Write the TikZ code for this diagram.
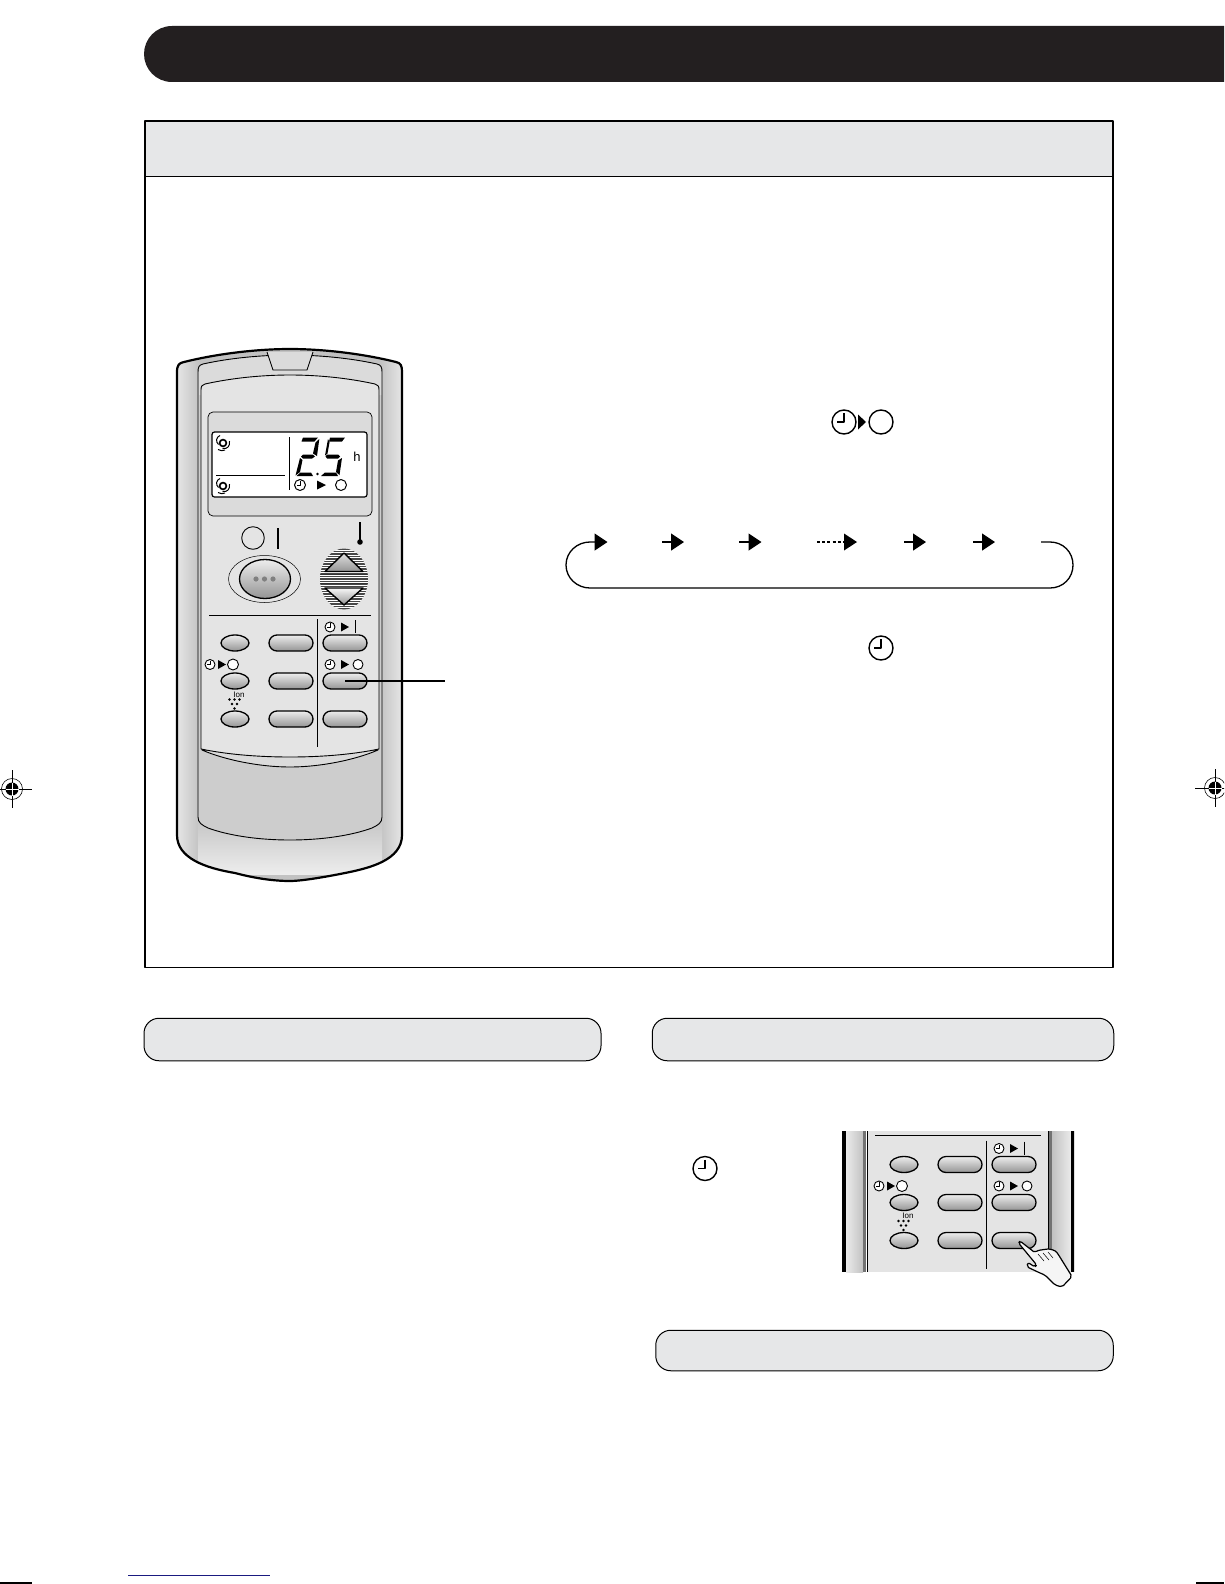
\documentclass[tikz,border=0pt]{standalone}
\usepackage{fontspec}
\setmainfont{Liberation Sans}
\usetikzlibrary{shapes.geometric,shapes.misc,arrows.meta}
\definecolor{bandgrey}{HTML}{E6E7E8}
\definecolor{facegrey}{HTML}{E4E4E4}
\definecolor{lowgrey}{HTML}{CDCDCD}
\definecolor{rimgrey}{HTML}{DBDBDB}
\definecolor{navyrule}{HTML}{1A1A80}
\definecolor{titleblack}{HTML}{231F20}
\pgfdeclarehorizontalshading{bodyshade}{100bp}{color(0bp)=(white!90!black); color(25bp)=(white!90!black); color(30bp)=(white!76!black); color(70bp)=(white!76!black); color(75bp)=(white!90!black); color(100bp)=(white!90!black)}
\tikzset{
  band/.style={draw=black,line width=1pt,fill=bandgrey,rounded corners=15pt},
  keybtn/.style={draw=black,line width=1.3pt,inner sep=0pt,top color=white!93!black,middle color=white!76!black,bottom color=white!58!black,shading angle=0},
  wide/.style={keybtn,rounded rectangle,minimum width=44pt,minimum height=16pt},
  oval/.style={keybtn,ellipse,minimum width=28pt,minimum height=16pt},
  thin/.style={line width=0.9pt,draw=black},
  arr/.style={line width=1.3pt,-{Triangle[length=13pt,width=17pt]}},
  sans/.style={inner sep=0pt,font=\fontsize{#1}{#1}\selectfont}
}
% clock icon: x, y, radius, line width
\newcommand{\clockic}[4]{%
  \draw[line width=#4,fill=white] (#1,#2) circle[radius=#3];
  \draw[line width=#4] (#1,#2-0.72*#3) -- (#1,#2) -- (#1-0.62*#3,#2);
}
\newcommand{\ringic}[4]{\draw[line width=#4,fill=white] (#1,#2) circle[radius=#3];}
\newcommand{\trialic}[3]{\fill[black] (#1,#3-4.5) -- (#2,#3) -- (#1,#3+4.5) -- cycle;}
% the swirl on the display
\newcommand{\swirlic}[2]{%
  \draw[line width=1.7pt] (#1,#2) circle[radius=3.4];
  \draw[line width=1pt] (#1-3,#2-7.5) .. controls (#1-7,#2-6) and (#1-7.5,#2-1) .. (#1-4.5,#2+1.5);
  \draw[line width=1pt] (#1+6.5,#2-2) .. controls (#1+7.5,#2+3) and (#1+4,#2+6.5) .. (#1-0.5,#2+5.5);
  \draw[line width=1pt] (#1-5,#2+6.5) .. controls (#1-3,#2+8) and (#1,#2+8) .. (#1+2,#2+7);
}
\newcommand{\regmark}[2]{%
  \draw[line width=0.6pt] (#1,#2) circle[radius=10.5];
  \fill[black] (#1,#2) circle[radius=6.5];
  \draw[line width=0.6pt] (#1-20,#2) -- (#1+20,#2) (#1,#2-19) -- (#1,#2+19);
  \draw[white,line width=0.8pt] (#1-6.5,#2) -- (#1+6.5,#2) (#1,#2-6.5) -- (#1,#2+6.5);
}
% the key block of the remote, drawn at the main remote's coordinates
\newcommand{\keypad}[1]{%
  \draw[line width=1pt] (317,619) -- (317,747);
  \node[oval] (#1a1) at (235,643) {};
  \node[wide] (#1b1) at (291,643) {};
  \node[wide] (#1c1) at (345,643) {};
  \node[oval] (#1a2) at (235,681) {};
  \node[wide] (#1b2) at (291,681) {};
  \node[wide] (#1c2) at (345,681) {};
  \node[oval] (#1a3) at (235,719) {};
  \node[wide] (#1b3) at (291,719) {};
  \node[wide] (#1c3) at (345,719) {};
  \clockic{330}{627}{5}{0.9pt}
  \trialic{341}{349}{627}
  \draw[line width=1pt] (355,620) -- (355,633);
  \clockic{330}{664.5}{5}{0.9pt}
  \trialic{341}{349}{664.5}
  \ringic{358}{664.5}{5}{0.9pt}
  \clockic{210}{664.5}{5}{0.9pt}
  \trialic{218}{226}{664.5}
  \ringic{233}{664.5}{5.5}{0.9pt}
  \node[sans=8] (#1ion) at (239,694.5) {Ion};
  \foreach \px/\py in {229.5/699.5,234.5/699.5,239.5/699.5,232/704,237/704,234.5/708.5}
    \fill[black] (\px,\py) circle[radius=1.4];
}
\begin{document}
\begin{tikzpicture}[x=1pt,y=-1pt,line join=round]
\useasboundingbox (0,0) rectangle (1224,1584);
\fill[white] (0,0) rectangle (1224,1584);
\clip (0,0) rectangle (1224,1584);

% title bar
\fill[titleblack] (1224,26) -- (172,26) .. controls (156,26) and (144,39) .. (144,54) .. controls (144,69) and (156,82) .. (172,82) -- (1224,82) -- cycle;

% main frame
\fill[bandgrey] (145,121) rectangle (1113,176.5);
\draw[line width=0.9pt] (145,176.5) -- (1113,176.5);
\draw[line width=1.8pt] (145,121) rectangle (1113,967.5);

% lower rounded bands
\node[band,minimum width=457pt,minimum height=42.5pt,inner sep=0pt] (bandA) at (372.5,1039.5) {};
\node[band,minimum width=461.5pt,minimum height=42.5pt,inner sep=0pt] (bandB) at (883,1039.5) {};
\node[band,minimum width=457.5pt,minimum height=40.5pt,inner sep=0pt] (bandC) at (884.5,1350.5) {};

% registration marks and page rules
\regmark{12}{789}
\regmark{1215}{788}
\draw[navyrule,line width=1pt] (128,1575) -- (270,1575);
\draw[line width=1.4pt] (0,1583) -- (32,1583) (1196,1583) -- (1224,1583);

%%%%% remote
\path[shading=bodyshade,shading angle=0] (177,372) .. controls (177,365) and (179,363) .. (184,362) .. controls (220,353) and (260,349) .. (290,349) .. controls (320,349) and (360,353) .. (396,362) .. controls (401,363) and (402,366) .. (402,372) -- (402,835) .. controls (402,860) and (370,868) .. (345,873) .. controls (320,878) and (300,881) .. (290,881) .. controls (270,881) and (250,877) .. (235,873) .. controls (205,868) and (177,858) .. (177,835) -- cycle;
\begin{scope}
  \clip (177,372) -- (402,372) -- (402,835) .. controls (402,860) and (370,868) .. (345,873) .. controls (320,878) and (300,881) .. (290,881) .. controls (270,881) and (250,877) .. (235,873) .. controls (205,868) and (177,858) .. (177,835) -- cycle;
  \shade[top color=white!76!black,bottom color=white!93!black] (198,815) rectangle (382,874);
\end{scope}
\draw[line width=2.2pt] (177,372) .. controls (177,365) and (179,363) .. (184,362) .. controls (220,353) and (260,349) .. (290,349) .. controls (320,349) and (360,353) .. (396,362) .. controls (401,363) and (402,366) .. (402,372) -- (402,835) .. controls (402,860) and (370,868) .. (345,873) .. controls (320,878) and (300,881) .. (290,881) .. controls (270,881) and (250,877) .. (235,873) .. controls (205,868) and (177,858) .. (177,835) -- cycle;
% inner panel
\draw[thin,fill=lowgrey] (198,372) .. controls (198,367) and (199,365) .. (203,364) .. controls (230,358) and (262,355) .. (290,355) .. controls (318,355) and (350,358) .. (377,364) .. controls (381,365) and (382,367) .. (382,372) -- (382,817) .. controls (382,823) and (378,825) .. (372,828) .. controls (350,836) and (320,840) .. (290,840) .. controls (260,840) and (230,836) .. (208,828) .. controls (202,825) and (198,823) .. (198,817) -- cycle;
\fill[rimgrey] (199,372) .. controls (199,367) and (200,366) .. (203,365) .. controls (230,359) and (262,356) .. (290,356) .. controls (318,356) and (350,359) .. (377,365) .. controls (380,366) and (381,367) .. (381,372) -- (381,395) -- (199,395) -- cycle;
% clip on top
\draw[thin,fill=rimgrey] (267,352) -- (273,370) -- (307,370) -- (313,352);
% lower crescent
\draw[thin,fill=rimgrey] (202,750) .. controls (225,760) and (260,767) .. (290,767) .. controls (320,767) and (355,760) .. (378,750) -- cycle;
% face
\draw[thin,fill=facegrey] (201,390) .. controls (201,386) and (202,385) .. (205,384) .. controls (232,378) and (262,375) .. (290,375) .. controls (318,375) and (348,378) .. (375,384) .. controls (378,385) and (379,386) .. (379,390) -- (379,749) .. controls (350,755) and (318,757) .. (290,757) .. controls (262,757) and (230,755) .. (201,749) -- cycle;

% display
\draw[line width=0.7pt,fill=rimgrey,rounded corners=5pt] (208,412) rectangle (372,516);
\draw[line width=1.2pt,fill=white,rounded corners=2.5pt] (212,432) rectangle (367,497);
\draw[line width=1pt] (289,437) -- (289,490);
\draw[line width=0.9pt] (216,475) -- (285,475);
\swirlic{223}{443}
\swirlic{223}{486}
% 2
\fill[black] (303,437.5) -- (318,437.5) -- (314.5,441.5) -- (301.5,441.5) -- cycle;
\fill[black] (319.3,439) -- (317,456) -- (313,453.5) -- (315.5,442.5) -- cycle;
\fill[black] (303,454.5) -- (313,454.5) -- (315,456.5) -- (312,458.5) -- (303,458.5) -- (301,456.5) -- cycle;
\fill[black] (300,458) -- (302.5,460) -- (300,472) -- (295.5,475.5) -- cycle;
\fill[black] (296.5,476) -- (300.5,472.5) -- (311,472.5) -- (313,476) -- cycle;
% 5
\fill[black] (330,437.5) -- (345,437.5) -- (342,441.5) -- (329,441.5) -- cycle;
\fill[black] (328,439) -- (329.5,442.5) -- (327.5,453.5) -- (325,455.5) -- cycle;
\fill[black] (327,454.5) -- (338,454.5) -- (340,456.5) -- (338,458.5) -- (327,458.5) -- (325.5,456.5) -- cycle;
\fill[black] (342,458) -- (339.5,475) -- (336,472) -- (338,460.5) -- cycle;
\fill[black] (321,476) -- (325,472.5) -- (336,472.5) -- (338,476) -- cycle;
\fill[black] (317.5,474) circle[radius=1.4];
\node[sans=13] (hlabel) at (357,457) {h};
\clockic{300}{485}{5.5}{1pt}
\trialic{317}{326}{485}
\ringic{341}{485}{5.5}{1pt}

% power symbols
\draw[line width=0.9pt] (253,538) circle[radius=11.3];
\draw[line width=1.1pt] (278,528) -- (278,549);
% thermometer
\draw[line width=2pt] (360,522) -- (360,542);
\fill[black] (360,542) circle[radius=2.8];
% big button
\draw[line width=0.5pt,fill=facegrey] (264.5,579) circle[x radius=36,y radius=23.5];
\node[keybtn,ellipse,minimum width=51pt,minimum height=39pt] (powerkey) at (265,579) {};
\foreach \dx in {256,264.5,273}
  \fill[black!50] (\dx,579) circle[radius=2.6];
% temperature rocker
\begin{scope}
  \clip (344,579) circle[x radius=24,y radius=30.5];
  \fill[white] (320,548) rectangle (368,610);
  \foreach \yy in {549,551.5,...,610}
    \draw[black!72,line width=1.1pt] (320,\yy) -- (368,\yy);
  \fill[black!80] (320,574) rectangle (368,575.2);
  \fill[black!80] (320,583) rectangle (368,584.2);
\end{scope}
\draw[line width=1.4pt,top color=white!88!black,bottom color=white!58!black] (344,553) -- (363,571.5) -- (325,571.5) -- cycle;
\draw[line width=1.4pt,top color=white!97!black,bottom color=white!58!black] (325,588) -- (363,588) -- (344,605) -- cycle;

% divider
\draw[line width=1pt] (209,615) -- (371,615);
\keypad{m}
% leader
\coordinate (leaderend) at (445,681);
\draw[line width=1.3pt] (mc2.center) -- (leaderend);

%%%%% cycle of settings
\coordinate (la) at (1041,542);
\coordinate (lz) at (607.5,542);
\draw[arr] (la) -- (1050,542) .. controls (1063,542) and (1073,552) .. (1073,565) .. controls (1073,578) and (1063,588) .. (1050,588) -- (590,588) .. controls (577,588) and (566,578) .. (566,565) .. controls (566,552) and (577,542) .. (590,542) -- (lz);
\foreach \nm/\sx/\ex in {b/662/684,c/739/761.5,e/904/926,f/973/995}{
  \coordinate (s\nm) at (\sx,542);
  \coordinate (e\nm) at (\ex,542);
  \draw[arr] (s\nm) -- (e\nm);
}
\coordinate (sd) at (817,542);
\coordinate (ed) at (857,542);
\draw[line width=1.3pt,dash pattern=on 3pt off 2.2pt] (sd) -- (844,542);
\fill[black] (844,533.5) -- (857,542) -- (844,550.5) -- cycle;

% large symbols
\clockic{844}{422}{12}{1.4pt}
\fill[black] (858,414.5) -- (866,422) -- (858,429.5) -- cycle;
\ringic{881}{422}{12}{1.4pt}
\clockic{881}{648}{12}{1.4pt}
\clockic{705}{1168.5}{12}{1.4pt}

%%%%% key block close-up
\begin{scope}
  \clip (842,1131) rectangle (1074,1272);
  \shade[left color=white!92!black,right color=white!76!black] (846,1131) rectangle (863,1272);
  \shade[left color=white!76!black,right color=white!92!black] (1052,1131) rectangle (1071,1272);
  \fill[black] (842,1131) rectangle (846,1272);
  \fill[black] (1071,1131) rectangle (1075,1272);
  \fill[black!55] (863,1131) rectangle (866,1272);
  \fill[black!55] (1049,1131) rectangle (1052,1272);
  \fill[facegrey] (867,1131) rectangle (1048,1272);
  \draw[line width=1pt] (867.5,1131) -- (867.5,1272) (1048,1131) -- (1048,1272);
\end{scope}
\draw[line width=1pt] (875,1135) -- (1041,1135);
\begin{scope}[shift={(669,521.5)}]
  \keypad{z}
\end{scope}
% pressing hand
\draw[line width=1.2pt,fill=white!96!black,rounded corners=2pt] (1020,1241) -- (1035,1252.7) .. controls (1038,1250) and (1042,1250) .. (1046,1249) .. controls (1050,1249) and (1055,1250) .. (1058,1254) -- (1072,1276.5) -- (1062,1287) -- (1055,1285) -- (1045,1275) -- (1040,1273) -- (1026.7,1266.7) -- (1028,1262.5) -- (1035,1267) -- (1036.7,1265) -- (1018.5,1243) -- cycle;
\draw[line width=0.5pt] (1038,1254) -- (1044,1261) (1043,1253) -- (1049,1260) (1048,1252) -- (1053,1258);
\end{tikzpicture}
\end{document}
